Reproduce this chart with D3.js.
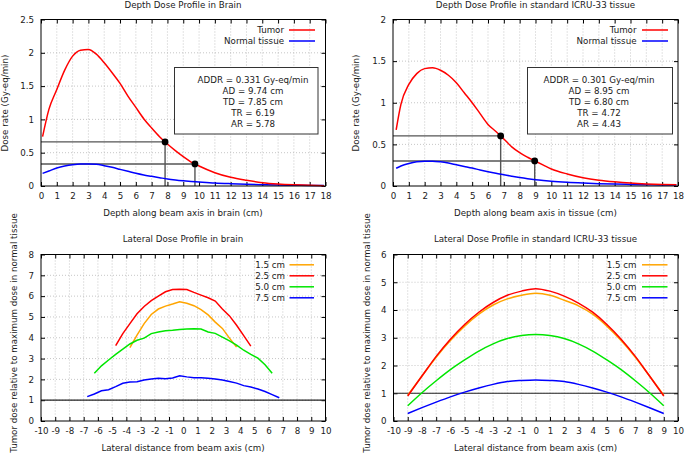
<!DOCTYPE html>
<html>
<head>
<meta charset="utf-8">
<script src="https://cdn.jsdelivr.net/npm/d3@7"></script>
<style>
  body { margin: 0; background: #fff; }
  svg text { font-family: "DejaVu Sans", sans-serif; font-size: 8.7px; fill: #1a1a1a; }
  .grid line { stroke: #b8b8b8; stroke-width: 0.8; stroke-dasharray: 1,2; }
  .tick line { stroke: #000; }
  .domain { display: none; }
</style>
</head>
<body>
<div id="chart"></div>
<script>
// ---- depth dose data (Gy-eq/min) ----
var depthBrain = [0.1, 0.5, 1, 1.5, 2, 2.5, 3, 3.5, 4, 4.5, 5, 5.5, 6, 6.5, 7, 7.5, 8, 8.5, 9, 9.5, 10, 11, 12, 13, 14, 15, 16, 17, 17.9];
var tumorBrain = [0.74, 1.15, 1.45, 1.74, 1.95, 2.04, 2.05, 1.98, 1.85, 1.70, 1.54, 1.35, 1.18, 1.01, 0.87, 0.74, 0.63, 0.53, 0.44, 0.36, 0.30, 0.20, 0.13, 0.085, 0.05, 0.03, 0.018, 0.01, 0.005];
var normalBrain = [0.19, 0.225, 0.27, 0.30, 0.32, 0.33, 0.33, 0.325, 0.305, 0.28, 0.25, 0.22, 0.19, 0.165, 0.145, 0.125, 0.105, 0.09, 0.078, 0.068, 0.06, 0.045, 0.035, 0.027, 0.02, 0.015, 0.011, 0.008, 0.006];

var depthTissue = [0.2, 0.5, 1, 1.5, 2, 2.5, 3, 3.5, 4, 4.5, 5, 5.5, 6, 6.5, 7, 7.5, 8, 8.5, 9, 9.5, 10, 11, 12, 13, 14, 15, 16, 17, 17.9];
var tumorTissue = [0.675, 0.98, 1.22, 1.35, 1.41, 1.42, 1.39, 1.33, 1.24, 1.12, 1.0, 0.87, 0.74, 0.655, 0.565, 0.47, 0.40, 0.345, 0.297, 0.25, 0.205, 0.145, 0.10, 0.07, 0.05, 0.035, 0.025, 0.018, 0.014];
var normalTissue = [0.213, 0.24, 0.27, 0.29, 0.298, 0.298, 0.29, 0.275, 0.255, 0.235, 0.215, 0.193, 0.172, 0.152, 0.135, 0.118, 0.102, 0.088, 0.076, 0.066, 0.057, 0.044, 0.035, 0.028, 0.023, 0.019, 0.016, 0.013, 0.012];

// dose metrics: [brain, tissue]
var addr = [0.331, 0.301];
var ad = [9.74, 8.95];
var td = [7.85, 6.80];
var tr = [6.19, 4.72];
var ar = [5.78, 4.43];

// ---- lateral profiles (ratio) ----
var depthNames = ["1.5 cm", "2.5 cm", "5.0 cm", "7.5 cm"];

var latBrainX15 = [-3.75, -3.25, -2.75, -2.25, -1.75, -1.25, -0.75, -0.25, 0.25, 0.75, 1.25, 1.75, 2.25, 2.75, 3.25, 3.75];
var latBrain15 = [3.52, 4.13, 4.68, 5.12, 5.38, 5.52, 5.62, 5.73, 5.66, 5.54, 5.35, 5.10, 4.75, 4.45, 3.98, 3.55];
var latBrainX25 = [-4.75, -4.25, -3.75, -3.25, -2.75, -2.25, -1.75, -1.25, -0.75, -0.25, 0.25, 0.75, 1.25, 1.75, 2.25, 2.75, 3.25, 3.75, 4.25, 4.75];
var latBrain25 = [3.62, 4.2, 4.68, 5.15, 5.5, 5.78, 6.0, 6.21, 6.32, 6.33, 6.32, 6.18, 6.05, 5.92, 5.76, 5.38, 5.05, 4.6, 4.1, 3.6];
var latBrainX50 = [-6.25, -5.75, -5.25, -4.75, -4.25, -3.75, -3.25, -2.75, -2.25, -1.75, -1.25, -0.75, -0.25, 0.25, 0.75, 1.25, 1.75, 2.25, 2.75, 3.25, 3.75, 4.25, 4.75, 5.25, 5.75, 6.25];
var latBrain50 = [2.29, 2.65, 2.93, 3.2, 3.45, 3.7, 3.88, 3.98, 4.2, 4.28, 4.34, 4.36, 4.4, 4.42, 4.43, 4.42, 4.28, 4.21, 4.03, 3.85, 3.65, 3.4, 3.2, 3.02, 2.7, 2.29];
var latBrainX75 = [-6.75, -6.25, -5.75, -5.25, -4.75, -4.25, -3.75, -3.25, -2.75, -2.25, -1.75, -1.25, -0.75, -0.25, 0.25, 0.75, 1.25, 1.75, 2.25, 2.75, 3.25, 3.75, 4.25, 4.75, 5.25, 5.75, 6.25, 6.75];
var latBrain75 = [1.17, 1.3, 1.45, 1.5, 1.65, 1.81, 1.87, 1.89, 1.97, 2.02, 2.05, 2.03, 2.07, 2.17, 2.12, 2.08, 2.08, 2.05, 2.02, 1.97, 1.9, 1.82, 1.7, 1.63, 1.54, 1.42, 1.27, 1.12];

var latTissueX = [-9, -8, -7, -6, -5, -4, -3, -2, -1, 0, 1, 2, 3, 4, 5, 6, 7, 8, 9];
var latTissue15 = [0.93, 1.62, 2.3, 2.9, 3.42, 3.85, 4.18, 4.4, 4.53, 4.6, 4.53, 4.35, 4.15, 3.85, 3.42, 2.9, 2.3, 1.62, 0.93];
var latTissue25 = [0.9, 1.62, 2.33, 2.95, 3.48, 3.92, 4.27, 4.53, 4.68, 4.77, 4.68, 4.5, 4.25, 3.92, 3.48, 2.95, 2.33, 1.62, 0.9];
var latTissue50 = [0.55, 1.02, 1.45, 1.85, 2.2, 2.52, 2.78, 2.97, 3.08, 3.12, 3.08, 2.97, 2.78, 2.52, 2.2, 1.85, 1.45, 1.02, 0.55];
var latTissue75 = [0.27, 0.48, 0.68, 0.87, 1.04, 1.19, 1.32, 1.42, 1.46, 1.48, 1.46, 1.42, 1.32, 1.19, 1.04, 0.87, 0.68, 0.48, 0.27];

// ---- ticks ----
var depthTicks = d3.range(0, 19);
var lateralTicks = d3.range(-10, 11);
var doseTicksBrain = [0, 0.5, 1, 1.5, 2, 2.5];
var doseTicksTissue = [0, 0.5, 1, 1.5, 2];
var ratioTicksBrain = [0, 1, 2, 3, 4, 5, 6, 7, 8];
var ratioTicksTissue = [0, 1, 2, 3, 4, 5, 6];

var depthColors = ["#ffa500", "#ff0000", "#00e600", "#0000ff"];

function zip(xs, ys) {
  return xs.map(function(x, i) { return { x: x, y: ys[i] }; });
}

var svg = d3.select("#chart").append("svg")
  .attr("width", 685)
  .attr("height", 458);


Panel = function(_cfg) {
  this.cfg = _cfg;
  this.initVis();
};

Panel.prototype.initVis = function() {
  var vis = this;
  var c = vis.cfg;

  vis.g = svg.append("g");

  vis.x = d3.scaleLinear().domain(c.xDomain).range([c.left, c.right]);
  vis.y = d3.scaleLinear().domain(c.yDomain).range([c.bottom, c.top]);

  // grid
  var grid = vis.g.append("g").attr("class", "grid");
  grid.selectAll(".gx").data(c.xTicks.slice(1, -1)).enter().append("line")
    .attr("x1", function(d) { return vis.x(d); })
    .attr("x2", function(d) { return vis.x(d); })
    .attr("y1", c.top).attr("y2", c.bottom);
  grid.selectAll(".gy").data(c.yTicks.slice(1, -1)).enter().append("line")
    .attr("y1", function(d) { return vis.y(d); })
    .attr("y2", function(d) { return vis.y(d); })
    .attr("x1", c.left).attr("x2", c.right);

  // axes (inward ticks on all four sides)
  var fmt = function(d) { return String(d); };
  vis.g.append("g")
    .attr("transform", "translate(0," + c.bottom + ")")
    .call(d3.axisBottom(vis.x).tickValues(c.xTicks).tickFormat(fmt).tickSize(-4).tickPadding(7));
  vis.g.append("g")
    .attr("transform", "translate(0," + c.top + ")")
    .call(d3.axisTop(vis.x).tickValues(c.xTicks).tickFormat("").tickSize(-4));
  vis.g.append("g")
    .attr("transform", "translate(" + c.left + ",0)")
    .call(d3.axisLeft(vis.y).tickValues(c.yTicks).tickFormat(fmt).tickSize(-4).tickPadding(7));
  vis.g.append("g")
    .attr("transform", "translate(" + c.right + ",0)")
    .call(d3.axisRight(vis.y).tickValues(c.yTicks).tickFormat("").tickSize(-4));

  vis.g.selectAll(".tick text").style("font-size", "8.7px").style("font-family", "DejaVu Sans").attr("fill", "#1a1a1a");

  // titles / labels
  vis.g.append("text")
    .attr("x", c.titleX).attr("y", c.titleY)
    .attr("text-anchor", "middle").attr("dominant-baseline", "central")
    .text(c.title);
  vis.g.append("text")
    .attr("x", c.titleX).attr("y", c.xLabelY)
    .attr("text-anchor", "middle").attr("dominant-baseline", "central")
    .text(c.xLabel);
  vis.g.append("text")
    .attr("transform", "translate(" + c.yLabelX + "," + c.yLabelY + ") rotate(-90)")
    .attr("text-anchor", "middle").attr("dominant-baseline", "central")
    .text(c.yLabel);

  vis.drawMarks();

  // frame
  vis.g.append("rect")
    .attr("x", c.left).attr("y", c.top)
    .attr("width", c.right - c.left).attr("height", c.bottom - c.top)
    .attr("fill", "none").attr("stroke", "#000").attr("stroke-width", 1);

  vis.drawLegend();
};

Panel.prototype.drawMarks = function() {
  var vis = this;
  var c = vis.cfg;

  // reference lines
  if (c.refs) {
    c.refs.forEach(function(r) {
      vis.g.append("path")
        .attr("d", "M" + vis.x(0) + "," + vis.y(r.y) + "H" + vis.x(r.x) + "V" + vis.y(0))
        .attr("fill", "none").attr("stroke", "#555").attr("stroke-width", 1.4);
    });
  }
  if (c.unity) {
    vis.g.append("line")
      .attr("x1", c.left).attr("x2", c.right)
      .attr("y1", vis.y(1)).attr("y2", vis.y(1))
      .attr("stroke", "#222").attr("stroke-width", 1.2);
  }

  var line = d3.line()
    .curve(c.curve)
    .x(function(d) { return vis.x(d.x); })
    .y(function(d) { return vis.y(d.y); });

  vis.g.selectAll(".series").data(c.series).enter().append("path")
    .attr("class", "series")
    .attr("fill", "none")
    .attr("stroke", function(d) { return d.color; })
    .attr("stroke-width", 1.5)
    .attr("d", function(d) { return line(d.values); });

  if (c.refs) {
    vis.g.selectAll(".dot").data(c.refs).enter().append("circle")
      .attr("cx", function(d) { return vis.x(d.x); })
      .attr("cy", function(d) { return vis.y(d.y); })
      .attr("r", 3.4)
      .attr("fill", "#000");
  }

  if (c.box) {
    var b = c.box;
    vis.g.append("rect")
      .attr("x", b.x0).attr("y", b.y0)
      .attr("width", b.x1 - b.x0).attr("height", b.y1 - b.y0)
      .attr("fill", "#fff").attr("stroke", "#333").attr("stroke-width", 1);
    vis.g.selectAll(".boxline").data(b.lines).enter().append("text")
      .attr("x", b.cx)
      .attr("y", function(d, i) { return b.ty + i * 11.2; })
      .attr("text-anchor", "middle").attr("dominant-baseline", "central")
      .text(function(d) { return d; });
  }
};

Panel.prototype.drawLegend = function() {
  var vis = this;
  var c = vis.cfg;
  var L = c.legend;
  var items = c.series.slice().sort(function(a, b) { return a.order - b.order; });
  var rows = vis.g.selectAll(".lg").data(items).enter().append("g")
    .attr("transform", function(d, i) { return "translate(0," + (L.y + i * L.step) + ")"; });
  rows.append("text")
    .attr("x", L.textRight).attr("y", 0)
    .attr("text-anchor", "end").attr("dominant-baseline", "central")
    .text(function(d) { return d.name; });
  rows.append("line")
    .attr("x1", L.x1).attr("x2", L.x2)
    .attr("stroke", function(d) { return d.color; })
    .attr("stroke-width", 1.5);
};

function boxLines(i) {
  return [
    "ADDR = " + addr[i].toFixed(3) + " Gy-eq/min",
    "AD = " + ad[i].toFixed(2) + " cm",
    "TD = " + td[i].toFixed(2) + " cm",
    "TR = " + tr[i].toFixed(2),
    "AR = " + ar[i].toFixed(2)
  ];
}

new Panel({
  left: 41, right: 325.5, top: 19.5, bottom: 186,
  xDomain: [0, 18], yDomain: [0, 2.5],
  xTicks: depthTicks, yTicks: doseTicksBrain,
  title: "Depth Dose Profile in Brain", titleX: 183, titleY: 4.5,
  xLabel: "Depth along beam axis in brain (cm)", xLabelY: 213,
  yLabel: "Dose rate (Gy-eq/min)", yLabelX: 5, yLabelY: 103,
  curve: d3.curveMonotoneX,
  series: [
    { name: "Normal tissue", color: "#0000ff", values: zip(depthBrain, normalBrain), order: 1 },
    { name: "Tumor", color: "#ff0000", values: zip(depthBrain, tumorBrain), order: 0 }
  ],
  refs: [{ x: td[0], y: 2 * addr[0] }, { x: ad[0], y: addr[0] }],
  box: { x0: 174.5, x1: 318, y0: 67.5, y1: 134, cx: 253, ty: 79.5, lines: boxLines(0) },
  legend: { y: 30, step: 11, textRight: 284, x1: 289, x2: 315 }
});

new Panel({
  left: 393, right: 678, top: 19.5, bottom: 186,
  xDomain: [0, 18], yDomain: [0, 2],
  xTicks: depthTicks, yTicks: doseTicksTissue,
  title: "Depth Dose Profile in standard ICRU-33 tissue", titleX: 535.5, titleY: 4.5,
  xLabel: "Depth along beam axis in tissue (cm)", xLabelY: 213,
  yLabel: "Dose rate (Gy-eq/min)", yLabelX: 355.5, yLabelY: 103,
  curve: d3.curveMonotoneX,
  series: [
    { name: "Normal tissue", color: "#0000ff", values: zip(depthTissue, normalTissue), order: 1 },
    { name: "Tumor", color: "#ff0000", values: zip(depthTissue, tumorTissue), order: 0 }
  ],
  refs: [{ x: td[1], y: 2 * addr[1] }, { x: ad[1], y: addr[1] }],
  box: { x0: 527.5, x1: 672.5, y0: 67.5, y1: 134, cx: 599, ty: 79.5, lines: boxLines(1) },
  legend: { y: 30, step: 11, textRight: 636.5, x1: 642, x2: 668 }
});

new Panel({
  left: 41, right: 325.5, top: 254.5, bottom: 421,
  xDomain: [-10, 10], yDomain: [0, 8],
  xTicks: lateralTicks, yTicks: ratioTicksBrain,
  title: "Lateral Dose Profile in brain", titleX: 183, titleY: 238.5,
  xLabel: "Lateral distance from beam axis (cm)", xLabelY: 448,
  yLabel: "Tumor dose relative to maximum dose in normal tissue", yLabelX: 14, yLabelY: 333,
  curve: d3.curveLinear,
  unity: true,
  series: [
    { name: depthNames[0], color: depthColors[0], values: zip(latBrainX15, latBrain15), order: 0 },
    { name: depthNames[1], color: depthColors[1], values: zip(latBrainX25, latBrain25), order: 1 },
    { name: depthNames[2], color: depthColors[2], values: zip(latBrainX50, latBrain50), order: 2 },
    { name: depthNames[3], color: depthColors[3], values: zip(latBrainX75, latBrain75), order: 3 }
  ],
  legend: { y: 264.8, step: 11, textRight: 285, x1: 289.5, x2: 314 }
});

new Panel({
  left: 393.5, right: 678, top: 254.5, bottom: 421,
  xDomain: [-10, 10], yDomain: [0, 6],
  xTicks: lateralTicks, yTicks: ratioTicksTissue,
  title: "Lateral Dose Profile in standard ICRU-33 tissue", titleX: 535.5, titleY: 238.5,
  xLabel: "Lateral distance from beam axis (cm)", xLabelY: 448,
  yLabel: "Tumor dose relative to maximum dose in normal tissue", yLabelX: 366.5, yLabelY: 333,
  curve: d3.curveMonotoneX,
  unity: true,
  series: [
    { name: depthNames[0], color: depthColors[0], values: zip(latTissueX, latTissue15), order: 0 },
    { name: depthNames[1], color: depthColors[1], values: zip(latTissueX, latTissue25), order: 1 },
    { name: depthNames[2], color: depthColors[2], values: zip(latTissueX, latTissue50), order: 2 },
    { name: depthNames[3], color: depthColors[3], values: zip(latTissueX, latTissue75), order: 3 }
  ],
  legend: { y: 264.8, step: 11, textRight: 636.5, x1: 642, x2: 667.5 }
});
</script>
</body>
</html>
